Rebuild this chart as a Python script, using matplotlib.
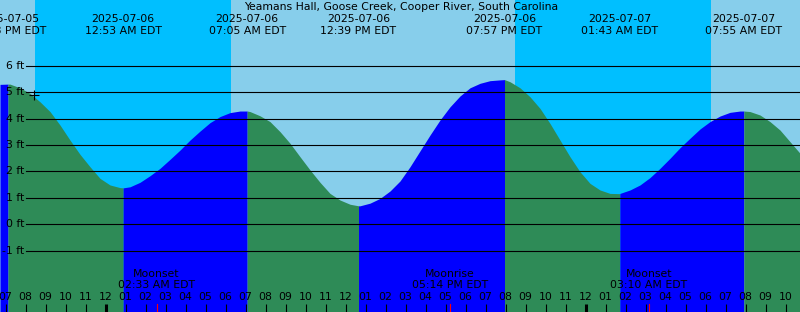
import matplotlib
matplotlib.use("Agg")
import matplotlib.pyplot as plt
import matplotlib.transforms as mtransforms
import numpy as np

# ---- data (x = hours from 2025-07-06 00:00 EDT, y = feet) ----
sample_hours = [-5.275, -4.775, -4.275, -3.775, -3.275, -2.775, -2.275, -1.775, -1.275, -0.775,
                -0.275, 0.225, 0.725, 1.225, 1.725, 2.225, 2.725, 3.225, 3.725, 4.225,
                4.725, 5.225, 5.725, 6.225, 6.725, 7.225, 7.725, 8.225, 8.725, 9.225,
                9.725, 10.225, 10.725, 11.225, 11.725, 12.225, 12.725, 13.225, 13.725, 14.225,
                14.725, 15.225, 15.725, 16.225, 16.725, 17.225, 17.725, 18.225, 18.725, 19.225,
                19.725, 20.225, 20.725, 21.225, 21.725, 22.225, 22.725, 23.225, 23.725, 24.225,
                24.725, 25.225, 25.725, 26.225, 26.725, 27.225, 27.725, 28.225, 28.725, 29.225,
                29.725, 30.225, 30.725, 31.225, 31.725, 32.225, 32.725, 33.225, 33.725, 34.225,
                34.725]
sample_ft = [5.30, 5.31, 5.17, 4.96, 4.64, 4.27, 3.76, 3.19, 2.65, 2.18,
             1.74, 1.49, 1.39, 1.42, 1.59, 1.84, 2.12, 2.46, 2.81, 3.19,
             3.53, 3.85, 4.08, 4.23, 4.29, 4.27, 4.11, 3.89, 3.51, 3.07,
             2.56, 2.06, 1.59, 1.17, 0.92, 0.76, 0.70, 0.80, 0.98, 1.26,
             1.64, 2.18, 2.78, 3.38, 3.95, 4.45, 4.86, 5.17, 5.34, 5.44,
             5.47, 5.40, 5.17, 4.83, 4.39, 3.82, 3.19, 2.56, 1.99, 1.55,
             1.30, 1.17, 1.17, 1.30, 1.49, 1.77, 2.12, 2.50, 2.90, 3.26,
             3.61, 3.89, 4.10, 4.24, 4.29, 4.27, 4.14, 3.89, 3.57, 3.13,
             2.69]

extreme_hours = [-4.875, 0.883, 7.083, 12.65, 19.95, 25.717, 31.917]
extreme_ft = [5.31, 1.38, 4.29, 0.70, 5.48, 1.16, 4.29]
extreme_dates = ["2025-07-05", "2025-07-06", "2025-07-06", "2025-07-06",
                 "2025-07-06", "2025-07-07", "2025-07-07"]
extreme_times = ["07:08 PM EDT", "12:53 AM EDT", "07:05 AM EDT", "12:39 PM EDT",
                 "07:57 PM EDT", "01:43 AM EDT", "07:55 AM EDT"]

night_start = [-3.525, 20.475]   # sunsets
night_end = [6.275, 30.275]      # sunrises

moon_hours = [2.55, 17.233, 27.167]
moon_events = ["Moonset", "Moonrise", "Moonset"]
moon_times = ["02:33 AM EDT", "05:14 PM EDT", "03:10 AM EDT"]

grid_ft = [-1, 0, 1, 2, 3, 4, 5, 6]
now_hour, now_ft = -3.6, 4.90

title = "Yeamans Hall, Goose Creek, Cooper River, South Carolina"

# ---- styling ----
W, H = 800, 312
XMIN, XMAX = -5.275, 34.725
YMIN, YMAX = -3.322, 8.496
DAY = "#87CEEB"
NIGHT = "#00BFFF"
RISE = "#0000FF"
FALL = "#2E8B57"
FS = 7.8

plt.rcParams['font.family'] = ['DejaVu Sans']
fig = plt.figure(figsize=(W / 100, H / 100), dpi=100)
ax = fig.add_axes([0, 0, 1, 1])
ax.set_xlim(XMIN, XMAX)
ax.set_ylim(YMIN, YMAX)
ax.set_facecolor(DAY)
ax.axis("off")
fig.patch.set_facecolor(DAY)

for s, e in zip(night_start, night_end):
    ax.axvspan(s, e, color=NIGHT, lw=0, zorder=1)

# merge samples and extremes
t = np.array(sample_hours + extreme_hours)
h = np.array(sample_ft + extreme_ft)
order = np.argsort(t)
t, h = t[order], h[order]

bounds = [XMIN] + extreme_hours + [XMAX]
for b0, b1 in zip(bounds[:-1], bounds[1:]):
    m = (t >= b0 - 1e-9) & (t <= b1 + 1e-9)
    seg_t, seg_h = t[m], h[m]
    color = RISE if seg_h[-1] > seg_h[0] else FALL
    ax.fill_between(seg_t, YMIN, seg_h, color=color, lw=0, zorder=2,
                    antialiased=False)

tr_axx = mtransforms.blended_transform_factory(ax.transAxes, ax.transData)
tr_axy = mtransforms.blended_transform_factory(ax.transData, ax.transAxes)

for g in grid_ft:
    ax.plot([26 / W, 1], [g, g], color="black", lw=0.8, transform=tr_axx, zorder=3)
    ax.text(24 / W, g, f"{g} ft", ha="right", va="center", fontsize=FS,
            transform=tr_axx, zorder=4)

ax.plot([now_hour], [now_ft], marker="+", color="black", ms=6.5, mew=0.8, zorder=5)

ax.text((W / 2 + 1) / W, 1 - 7.5 / H, title, ha="center", va="center", fontsize=FS,
        transform=ax.transAxes, zorder=6)
for x, d, tm in zip(extreme_hours, extreme_dates, extreme_times):
    ax.text(x, 1 - 19.5 / H, d, ha="center", va="center", fontsize=FS,
            transform=tr_axy, zorder=6)
    ax.text(x, 1 - 31.5 / H, tm, ha="center", va="center", fontsize=FS,
            transform=tr_axy, zorder=6)

for x, ev, tm in zip(moon_hours, moon_events, moon_times):
    ax.text(x, 1 - 274 / H, ev, ha="center", va="center", fontsize=FS,
            transform=tr_axy, zorder=6)
    ax.text(x, 1 - 285.5 / H, tm, ha="center", va="center", fontsize=FS,
            transform=tr_axy, zorder=6)
    ax.plot([x, x], [0, 8 / H], color="red", lw=0.8, transform=tr_axy, zorder=6)

for hr in range(int(np.ceil(XMIN)), int(np.floor(XMAX)) + 1):
    lab = f"{(hr % 12) or 12:02d}"
    ax.text(hr, 1 - 297.5 / H, lab, ha="center", va="center", fontsize=FS,
            transform=tr_axy, zorder=6)
    lw = 2.2 if hr % 24 == 0 else 0.8
    ax.plot([hr, hr], [0, 8 / H], color="black", lw=lw, transform=tr_axy, zorder=5,
            solid_capstyle="butt")

fig.savefig("out.png", dpi=100, facecolor=DAY)
